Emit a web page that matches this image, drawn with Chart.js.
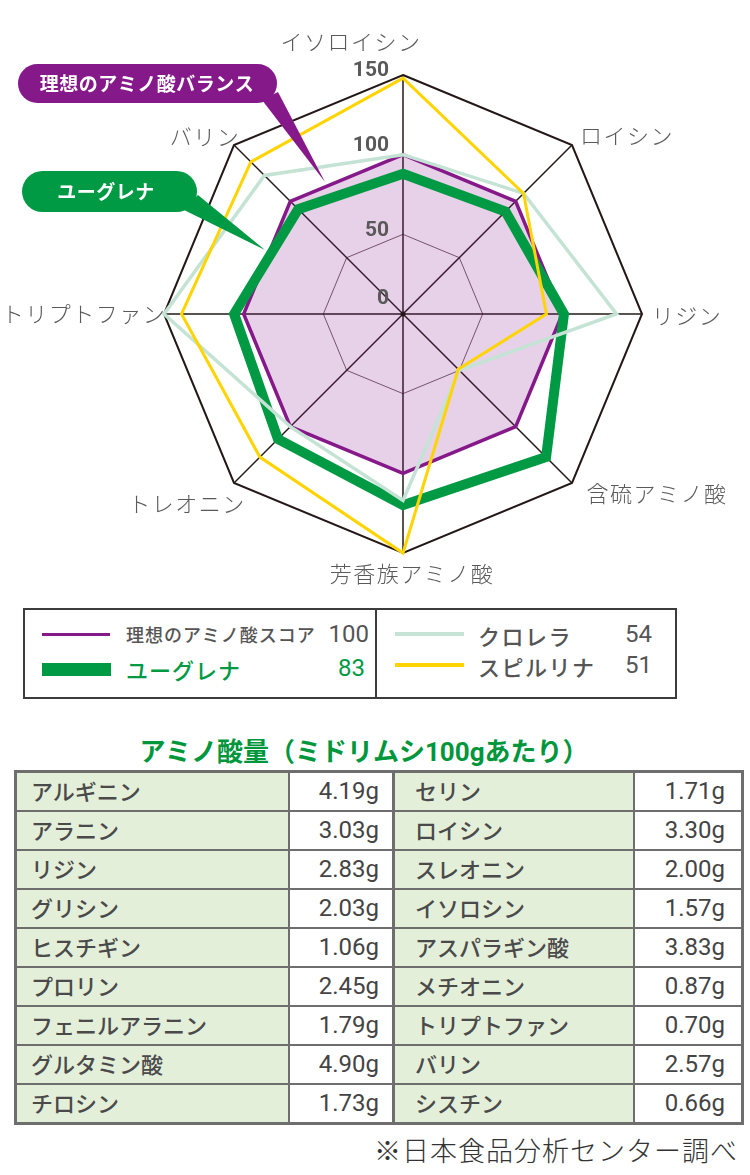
<!DOCTYPE html>
<html><head><meta charset="utf-8">
<script src="https://cdn.jsdelivr.net/npm/chart.js@4.4.0/dist/chart.umd.min.js"></script>
<style>
body{margin:0;background:#fff;width:750px;height:1175px;position:relative;overflow:hidden;font-family:"Noto Sans CJK JP","Noto Sans",sans-serif;}
#c{position:absolute;left:0;top:0;}
.abs{position:absolute;white-space:nowrap;}
#legendBox{position:absolute;left:23px;top:608px;width:650px;height:87px;border:2px solid #3c3c3c;}
#legendDiv{position:absolute;left:375px;top:608px;width:2px;height:91px;background:#3c3c3c;}
#title{position:absolute;left:64px;width:600px;top:730px;height:40px;line-height:40px;text-align:center;color:#00963c;font-weight:700;font-size:26px;}
#title .num{font-family:Roboto,sans-serif;font-weight:700;}
table{position:absolute;left:14px;top:770px;border-collapse:collapse;border:3px solid #6e6e6e;table-layout:fixed;}
td{border:2px solid #6e6e6e;height:37px;padding:0;font-size:22px;color:#4a4a4a;font-weight:500;}
td.n{background:#e4efda;text-align:left;height:34px;padding-bottom:3px;}
td.n1{padding-left:14px;}
td.n2{padding-left:20px;}
td.v{background:#fff;text-align:right;padding-right:13px;font-family:Roboto,sans-serif;font-size:24px;font-weight:400;color:#444;height:35px;padding-bottom:2px;}
td.v2{padding-right:16px;}
td.sep{border-right-width:3px;}
#foot{position:absolute;right:12px;top:1130px;height:40px;line-height:40px;font-size:27px;color:#333;font-weight:300;letter-spacing:1px;}
</style></head><body>
<canvas id="c" width="750" height="600"></canvas>
<div id="legendBox"></div><div id="legendDiv"></div>
<div id="legendItems"></div>
<div id="title">アミノ酸量（ミドリムシ<span class="num">100g</span>あたり）</div>
<table id="tbl"></table>
<div id="foot">※日本食品分析センター調べ</div>
<script>
// ---- data ----
const labels = ['イソロイシン','ロイシン','リジン','含硫アミノ酸','芳香族アミノ酸','トレオニン','トリプトファン','バリン'];
const idealScore = [100,100,100,100,100,100,100,100];
const euglena   = [88,91,101,127,120,111,106,93];
const chlorella = [100,107,134,50,117,100,150,123];
const spirulina = [148,107,90,49,150,127,139,135];
const tickValues = [0,50,100,150];
const legendNames = ['理想のアミノ酸スコア','ユーグレナ','クロレラ','スピルリナ'];
const legendScores = [100,83,54,51];
const tableNamesLeft  = ['アルギニン','アラニン','リジン','グリシン','ヒスチギン','プロリン','フェニルアラニン','グルタミン酸','チロシン'];
const tableValuesLeft = ['4.19g','3.03g','2.83g','2.03g','1.06g','2.45g','1.79g','4.90g','1.73g'];
const tableNamesRight = ['セリン','ロイシン','スレオニン','イソロシン','アスパラギン酸','メチオニン','トリプトファン','バリン','シスチン'];
const tableValuesRight= ['1.71g','3.30g','2.00g','1.57g','3.83g','0.87g','0.70g','2.57g','0.66g'];

const PURPLE='#86198a', GREEN='#009a44', LGREEN='#c4e3d4', YELLOW='#ffd400';

// ---- legend ----
const li = document.getElementById('legendItems');
function addBox(l,t,w,h,c){const d=document.createElement('div');d.className='abs';d.style.cssText=`left:${l}px;top:${t}px;width:${w}px;height:${h}px;background:${c}`;li.appendChild(d);}
function addText(txt,x,cy,size,color,weight,align,fam,ls){const d=document.createElement('div');d.className='abs';const h=size*1.4;
  d.style.cssText=`top:${cy-h/2}px;height:${h}px;line-height:${h}px;font-size:${size}px;color:${color};font-weight:${weight};`+(fam?`font-family:${fam};`:'')+(ls?`letter-spacing:${ls}px;`:'');
  if(align==='right'){d.style.right=(750-x)+'px';}else{d.style.left=x+'px';}
  d.textContent=txt;li.appendChild(d);}
addBox(42,633,68,3,PURPLE);
addBox(42,663,69,13,GREEN);
addBox(395,632,69,4,LGREEN);
addBox(395,663,69,4,YELLOW);
addText(legendNames[0],126,635,18,'#555',500,'left',null,1);
addText(String(legendScores[0]),369,635,24,'#555',400,'right','Roboto');
addText(legendNames[1],126,669,22,GREEN,500,'left',null,1);
addText(String(legendScores[1]),365,669,24,GREEN,400,'right','Roboto');
addText(legendNames[2],478,635,22,'#555',500,'left',null,1.5);
addText(String(legendScores[2]),652,635,24,'#555',400,'right','Roboto');
addText(legendNames[3],478,666,22,'#555',500,'left',null,1.5);
addText(String(legendScores[3]),652,666,24,'#555',400,'right','Roboto');

// ---- table ----
const tbl=document.getElementById('tbl');
let html='<colgroup><col style="width:273px"><col style="width:105px"><col style="width:240px"><col style="width:109px"></colgroup>';
for(let i=0;i<tableNamesLeft.length;i++){
  html+=`<tr><td class="n n1">${tableNamesLeft[i]}</td><td class="v sep">${tableValuesLeft[i]}</td><td class="n n2">${tableNamesRight[i]}</td><td class="v v2">${tableValuesRight[i]}</td></tr>`;
}
tbl.innerHTML=html;

// ---- chart ----
const tickLift={0:15,50:4,100:9,150:4};
const labelShift=[[-52,-33],[55,-9],[45,1.5],[85,11],[9,20.5],[-47,20.5],[-80,-0.5],[-29,-8.5]];

function pill(ctx,x0,y0,x1,y1,color){const r=(y1-y0)/2;ctx.fillStyle=color;ctx.beginPath();
  ctx.moveTo(x0+r,y0);ctx.lineTo(x1-r,y0);ctx.arc(x1-r,y0+r,r,-Math.PI/2,Math.PI/2);ctx.lineTo(x0+r,y1);ctx.arc(x0+r,y0+r,r,Math.PI/2,Math.PI*1.5);ctx.closePath();ctx.fill();}
function tri(ctx,pts,color){ctx.fillStyle=color;ctx.beginPath();ctx.moveTo(pts[0][0],pts[0][1]);for(let k=1;k<pts.length;k++)ctx.lineTo(pts[k][0],pts[k][1]);ctx.closePath();ctx.fill();}

const overlay={id:'overlay',afterDatasetsDraw(chart){
  const ctx=chart.ctx,s=chart.scales.r;
  ctx.save();
  ctx.fillStyle='#231815';ctx.beginPath();ctx.arc(s.xCenter,s.yCenter,2.5,0,Math.PI*2);ctx.fill();
  ctx.font='bold 21px Roboto';ctx.fillStyle='#595959';ctx.textAlign='right';ctx.textBaseline='middle';
  tickValues.forEach(v=>{const d=s.getDistanceFromCenterForValue(v);ctx.fillText(String(v),s.xCenter-14,s.yCenter-d-tickLift[v]);});
  ctx.font='300 22px "Noto Sans CJK JP"';ctx.fillStyle='#5a5a5a';ctx.textAlign='center';
  try{ctx.letterSpacing='1.5px';}catch(e){}
  labels.forEach((t,i)=>{const p=s.getPointPosition(i,s.drawingArea);const o=labelShift[i];ctx.fillText(t,p.x+o[0],p.y+o[1]);});
  try{ctx.letterSpacing='0.5px';}catch(e){}
  // callouts
  tri(ctx,[[262,100],[278,92],[325,182]],PURPLE);
  pill(ctx,18,64,277,103,PURPLE);
  tri(ctx,[[182,209],[198,195],[265,250]],GREEN);
  pill(ctx,22,171,197,212,GREEN);
  ctx.fillStyle='#fff';ctx.font='bold 19px "Noto Sans CJK JP"';ctx.textAlign='center';
  ctx.fillText('理想のアミノ酸バランス',147,84);
  ctx.fillText(legendNames[1],106,192);
  ctx.restore();
}};

new Chart(document.getElementById('c'),{
  type:'radar',
  data:{labels:labels,datasets:[
    {label:legendNames[3],data:spirulina,borderColor:YELLOW,borderWidth:3,fill:false,pointRadius:0,order:1,borderJoinStyle:'miter'},
    {label:legendNames[2],data:chlorella,borderColor:LGREEN,borderWidth:3.5,fill:false,pointRadius:0,order:2,borderJoinStyle:'miter'},
    {label:legendNames[1],data:euglena,borderColor:GREEN,borderWidth:10,fill:false,pointRadius:0,order:3,borderJoinStyle:'miter'},
    {label:legendNames[0],data:idealScore,borderColor:PURPLE,borderWidth:3.5,backgroundColor:'rgba(134,25,138,0.2)',fill:true,pointRadius:0,order:4,borderJoinStyle:'miter'}
  ]},
  options:{
    responsive:false,animation:false,devicePixelRatio:1,
    layout:{padding:{left:164,right:108,top:75,bottom:47}},
    plugins:{legend:{display:false},tooltip:{enabled:false}},
    scales:{r:{min:0,max:150,
      ticks:{display:false,stepSize:50},
      pointLabels:{display:false},
      angleLines:{color:'#231815',lineWidth:1.5},
      grid:{color:c=>c.tick&&c.tick.value===50?'#4a3a3a':'#231815',lineWidth:c=>c.tick&&c.tick.value===50?0.8:(c.tick&&c.tick.value===150?2:1.6)}
    }}
  },
  plugins:[overlay]
});
</script>
</body></html>
